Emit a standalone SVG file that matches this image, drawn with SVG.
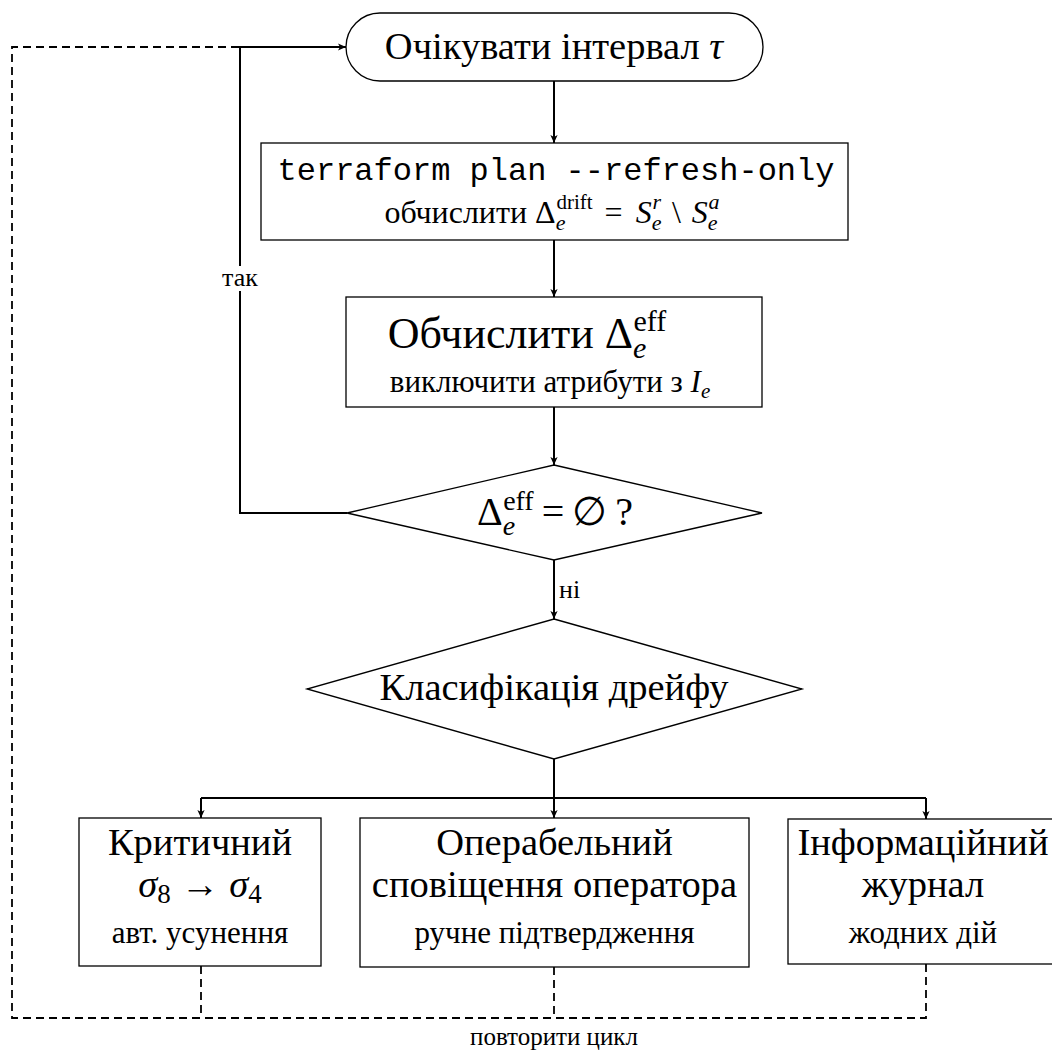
<svg xmlns="http://www.w3.org/2000/svg" width="1052" height="1052" viewBox="0 0 1052 1052">
<style>
  .box { fill: #fff; stroke: #000; stroke-width: 1.3; }
  .t { font-family: "Liberation Serif", "Times New Roman", serif; fill: #000; text-anchor: middle; }
  .mono { font-family: "Liberation Mono", "Courier New", monospace; fill: #000; text-anchor: middle; }
  .big { font-size: 38.5px; }
  .sm { font-size: 31px; }
  .lbl { font-size: 26px; }
  .i { font-style: italic; }
  .edge { fill: none; stroke: #000; stroke-width: 2; }
  .dash { fill: none; stroke: #000; stroke-width: 1.8; stroke-dasharray: 8 5; }
</style>
<defs>
  <marker id="arr" viewBox="0 0 10 10" refX="10" refY="5" markerWidth="8" markerHeight="8" markerUnits="userSpaceOnUse" orient="auto">
    <path d="M0,0.5 L10,5 L0,9.5 L2.5,5 Z" fill="#000"/>
  </marker>
</defs>
<rect width="1052" height="1052" fill="#fff"/>

<g id="connectors">
  <path class="edge" d="M554,81 V143" marker-end="url(#arr)"/>
  <path class="edge" d="M554,240 V297" marker-end="url(#arr)"/>
  <path class="edge" d="M554,407 V465" marker-end="url(#arr)"/>
  <path class="edge" d="M347,513 H240 V47 H346" marker-end="url(#arr)"/>
  <path class="edge" d="M554,560 V619" marker-end="url(#arr)"/>
  <path class="edge" d="M554,759 V818" marker-end="url(#arr)"/>
  <path class="edge" d="M201,798 H926"/>
  <path class="edge" d="M201,798 V818" marker-end="url(#arr)"/>
  <path class="edge" d="M926,798 V819" marker-end="url(#arr)"/>
  <path class="dash" d="M201,966 V1018"/>
  <path class="dash" d="M554,967 V1018"/>
  <path class="dash" d="M926,964 V1018 H12 V47 H240"/>
  <rect x="212" y="266" width="56" height="25" fill="#fff"/>
  <text class="t lbl" x="240" y="286">так</text>
  <text class="t lbl" x="559" y="598" style="text-anchor:start">ні</text>
  <text class="t" x="554" y="1045" style="font-size:25px">повторити цикл</text>
</g>

<g id="n-wait">
  <rect class="box" x="346" y="13" width="417" height="68" rx="34" ry="34"/>
  <text class="t big" x="554" y="59">Очікувати інтервал <tspan class="i">τ</tspan></text>
</g>

<g id="n-plan">
  <rect class="box" x="261" y="143" width="587" height="97"/>
  <text class="mono" x="556" y="180" style="font-size:32px">terraform plan --refresh-only</text>
  <text class="t" x="552" y="223" style="font-size:32px">обчислити Δ<tspan class="i" style="font-size:22px" dy="7">e</tspan><tspan style="font-size:21px" dx="-9" dy="-21">drift</tspan><tspan dx="12" dy="14">=</tspan><tspan class="i" dx="13">S</tspan><tspan class="i" style="font-size:22px" dy="7">e</tspan><tspan class="i" style="font-size:22px" dx="-9" dy="-21">r</tspan><tspan dx="11" dy="14">\</tspan><tspan class="i" dx="11">S</tspan><tspan class="i" style="font-size:22px" dy="7">e</tspan><tspan class="i" style="font-size:22px" dx="-9" dy="-21">a</tspan></text>
</g>

<g id="n-eff">
  <rect class="box" x="346" y="297" width="416" height="110"/>
  <text class="t" x="527" y="348" style="font-size:44px">Обчислити Δ<tspan class="i" style="font-size:30px" dy="10">e</tspan><tspan style="font-size:30px" dx="-13" dy="-27">eff</tspan></text>
  <text class="t sm" x="550" y="392">виключити атрибути з <tspan class="i">I</tspan><tspan class="i" style="font-size:21px" dy="6">e</tspan></text>
</g>

<g id="n-check">
  <polygon class="box" points="554,465 762,513 554,560 347,513"/>
  <text class="t" x="555" y="525" style="font-size:40px">Δ<tspan class="i" style="font-size:28px" dy="10">e</tspan><tspan style="font-size:28px" dx="-12" dy="-25">eff</tspan><tspan dx="8" dy="15">=</tspan><tspan dx="8">∅</tspan><tspan dx="8">?</tspan></text>
</g>

<g id="n-classify">
  <polygon class="box" points="554,619 802,689 554,759 307,689"/>
  <text class="t big" x="554" y="700">Класифікація дрейфу</text>
</g>

<g id="n-critical">
  <rect class="box" x="79" y="818" width="242" height="148"/>
  <text class="t big" x="200" y="855">Критичний</text>
  <text class="t big" x="200" y="897"><tspan class="i">σ</tspan><tspan style="font-size:27px" dy="6">8</tspan><tspan dx="10" dy="-6">→</tspan><tspan class="i" dx="10">σ</tspan><tspan style="font-size:27px" dy="6">4</tspan></text>
  <text class="t sm" x="200" y="943">авт. усунення</text>
</g>

<g id="n-operable">
  <rect class="box" x="360" y="818" width="389" height="149"/>
  <text class="t big" x="554.5" y="855">Операбельний</text>
  <text class="t big" x="554.5" y="897">сповіщення оператора</text>
  <text class="t sm" x="554.5" y="943">ручне підтвердження</text>
</g>

<g id="n-info">
  <rect class="box" x="788" y="819" width="272" height="145"/>
  <text class="t big" x="923" y="855">Інформаційний</text>
  <text class="t big" x="923" y="897">журнал</text>
  <text class="t sm" x="923" y="943">жодних дій</text>
</g>
</svg>
